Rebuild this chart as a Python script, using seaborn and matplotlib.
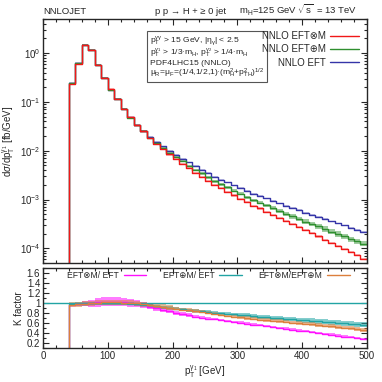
import numpy as np
import matplotlib
matplotlib.use("Agg")
import matplotlib.pyplot as plt
import seaborn as sns
from matplotlib.ticker import LogLocator, MultipleLocator, NullFormatter, FormatStrFormatter

# bin edges in p_T^gamma1 [GeV]
pt_edges = list(range(40, 510, 10))

# d sigma / d pT  [fb/GeV], one value per 10 GeV bin (40..500)
xs_eft = [0.245, 0.62, 1.46, 1.18, 0.575, 0.305, 0.177, 0.114, 0.0715, 0.048,
          0.0337, 0.0258, 0.0194, 0.0151, 0.0123, 0.0100, 0.00832, 0.00692, 0.00575, 0.00479,
          0.00407, 0.00347, 0.00295, 0.00257, 0.00224, 0.00195, 0.00170, 0.00148, 0.00132, 0.00117,
          0.00105, 9.33e-4, 8.32e-4, 7.41e-4, 6.61e-4, 6.03e-4, 5.37e-4, 4.90e-4, 4.37e-4, 3.98e-4,
          3.55e-4, 3.24e-4, 2.95e-4, 2.63e-4, 2.40e-4, 2.19e-4]
xs_add = [0.240, 0.614, 1.445, 1.18, 0.575, 0.305, 0.177, 0.114, 0.0715, 0.0475,
          0.0330, 0.0250, 0.0186, 0.0142, 0.0113, 0.0091, 0.00740, 0.00609, 0.00495, 0.00407,
          0.00342, 0.00288, 0.00239, 0.00206, 0.00177, 0.00152, 0.00131, 0.00112, 9.77e-4, 8.54e-4,
          7.56e-4, 6.62e-4, 5.82e-4, 5.11e-4, 4.49e-4, 4.04e-4, 3.54e-4, 3.19e-4, 2.80e-4, 2.51e-4,
          2.20e-4, 1.98e-4, 1.77e-4, 1.55e-4, 1.39e-4, 1.25e-4]
xs_mult = [0.238, 0.608, 1.445, 1.18, 0.581, 0.311, 0.181, 0.116, 0.0722, 0.048,
           0.0330, 0.0248, 0.0180, 0.0136, 0.0107, 0.0084, 0.00674, 0.00540, 0.00437, 0.00350,
           0.00289, 0.00239, 0.00201, 0.00170, 0.00143, 0.00121, 0.00104, 8.73e-4, 7.52e-4, 6.55e-4,
           5.67e-4, 4.85e-4, 4.16e-4, 3.63e-4, 3.11e-4, 2.71e-4, 2.36e-4, 2.06e-4, 1.75e-4, 1.51e-4,
           1.31e-4, 1.13e-4, 9.74e-5, 8.42e-5, 7.20e-5, 6.13e-5]

# relative scale uncertainty (half width) of the main-panel bands
rel_eft = [0.04] * 46
rel_add = [0.04] * 13 + [0.05] * 8 + [0.07] * 10 + [0.09, 0.09, 0.10, 0.10, 0.10, 0.11, 0.11,
                                                     0.11, 0.12, 0.12, 0.12, 0.12, 0.12, 0.12, 0.12]
rel_mult = [0.05] * 46

# K factors (ratios)
k_mult_eft = [0.97, 0.98, 0.99, 1.00, 1.02, 1.03, 1.03, 1.03, 1.02, 1.01,
              0.99, 0.96, 0.93, 0.90, 0.87, 0.84, 0.81, 0.78, 0.76, 0.73,
              0.71, 0.69, 0.68, 0.66, 0.64, 0.62, 0.61, 0.59, 0.57, 0.56,
              0.54, 0.52, 0.50, 0.49, 0.47, 0.45, 0.44, 0.42, 0.40, 0.38,
              0.37, 0.35, 0.33, 0.32, 0.30, 0.28]
k_add_eft = [0.98, 0.99, 0.99, 1.00, 1.00, 1.00, 1.00, 1.00, 1.00, 0.99,
             0.98, 0.97, 0.96, 0.94, 0.92, 0.91, 0.89, 0.88, 0.86, 0.85,
             0.84, 0.83, 0.81, 0.80, 0.79, 0.78, 0.77, 0.76, 0.74, 0.73,
             0.72, 0.71, 0.70, 0.69, 0.68, 0.67, 0.66, 0.65, 0.64, 0.63,
             0.62, 0.61, 0.60, 0.59, 0.58, 0.57]
k_mult_add = [0.97, 0.98, 0.99, 1.00, 1.01, 1.02, 1.02, 1.02, 1.01, 1.01,
              1.00, 0.98, 0.96, 0.94, 0.93, 0.91, 0.89, 0.87, 0.86, 0.84,
              0.83, 0.81, 0.79, 0.77, 0.75, 0.73, 0.72, 0.70, 0.69, 0.67,
              0.66, 0.65, 0.64, 0.63, 0.61, 0.60, 0.59, 0.58, 0.56, 0.55,
              0.54, 0.52, 0.51, 0.50, 0.48, 0.46]
dk_mult_eft = [0.02, 0.03, 0.05, 0.07, 0.09, 0.09, 0.09, 0.09, 0.08, 0.08,
               0.07, 0.06, 0.05, 0.05, 0.05, 0.04, 0.04, 0.04, 0.04, 0.03] + [0.025] * 26
dk_add_eft = [0.03] * 26 + [0.04] * 10 + [0.05] * 10
dk_mult_add = [0.05] * 16 + [0.035] * 30

RED, GREEN, BLUE = "#f01818", "#2f8f2f", "#3535a8"
MAGENTA, TEAL, ORANGE = "#ff10ff", "#22a4a4", "#dc7f3c"

sns.set_style("ticks")
plt.rcParams["font.family"] = ["Liberation Sans", "DejaVu Sans"]
plt.rcParams["mathtext.fontset"] = "custom"
plt.rcParams["mathtext.rm"] = "Liberation Sans"
plt.rcParams["mathtext.it"] = "Liberation Sans:italic"
plt.rcParams["font.size"] = 7

fig = plt.figure(figsize=(3.82, 3.82), dpi=100)
ax = fig.add_axes([0.1126, 0.3115, 0.848, 0.6387])
rx = fig.add_axes([0.1126, 0.089, 0.848, 0.2094])


def steps(vals):
    return list(vals) + [vals[-1]]


def draw(axis, vals, lo, hi, color, label, alpha, ybottom):
    axis.fill_between(pt_edges, steps(lo), steps(hi), step="post",
                      color=color, alpha=alpha, lw=0)
    sns.lineplot(x=pt_edges, y=steps(vals), ax=axis, color=color, lw=1.0,
                 drawstyle="steps-post", label=label, errorbar=None)
    axis.vlines(pt_edges[0], ybottom, vals[0], color=color, lw=1.0)


ymin_main = 5e-5
for vals, rel, col, lab, a in [(xs_eft, rel_eft, BLUE, "NNLO EFT", 0.3),
                               (xs_add, rel_add, GREEN, "NNLO EFT\u2295M", 0.45),
                               (xs_mult, rel_mult, RED, "NNLO EFT\u2297M", 0.3)]:
    v = np.array(vals)
    r = np.array(rel)
    draw(ax, vals, v * (1 - r), v * (1 + r), col, lab, a, ymin_main)

ax.set_yscale("log")
ax.set_xlim(0, 500)
ax.set_ylim(ymin_main, 5)
ax.yaxis.set_major_locator(LogLocator(base=10, numticks=10))
ax.yaxis.set_minor_locator(LogLocator(base=10, subs=(2, 3, 4, 5, 6, 7, 8, 9), numticks=20))
ax.yaxis.set_minor_formatter(NullFormatter())
ax.xaxis.set_major_locator(MultipleLocator(100))
ax.xaxis.set_minor_locator(MultipleLocator(20))
ax.tick_params(axis="x", labelbottom=False)
ax.set_xlabel("")
ax.set_ylabel(r"d$\sigma$/d$\mathregular{p_T^{\gamma_1}}$ [fb/GeV]", fontsize=7, labelpad=2)

h, l = ax.get_legend_handles_labels()
order = [l.index("NNLO EFT\u2297M"), l.index("NNLO EFT\u2295M"), l.index("NNLO EFT")]
ax.legend([h[i] for i in order], [l[i] for i in order], loc="upper right",
          bbox_to_anchor=(0.995, 0.975), markerfirst=False, frameon=False,
          fontsize=7, handlelength=3.0, labelspacing=0.35, handletextpad=0.5,
          borderaxespad=0.2)

info = ("$\\mathregular{p_T^{\\gamma\\gamma}}$ > 15 GeV, |$\\mathregular{\\eta_\\gamma}$| < 2.5\n"
        "$\\mathregular{p_T^{\\gamma_1}}$ > 1/3$\\cdot$$\\mathregular{m_H}$, "
        "$\\mathregular{p_T^{\\gamma_2}}$ > 1/4$\\cdot$$\\mathregular{m_H}$\n"
        "PDF4LHC15 (NNLO)\n"
        "$\\mathregular{\\mu_R}$=$\\mathregular{\\mu_F}$=(1/4,1/2,1)$\\cdot$"
        "$\\mathregular{(m_H^2{+}p_{TH}^2)^{1/2}}$")
ax.text(0.33, 0.94, info, transform=ax.transAxes, va="top", ha="left",
        fontsize=6.1, linespacing=0.98,
        bbox=dict(boxstyle="square,pad=0.3", fc="white", ec="#555555", lw=0.8))

# ratio panel
ymin_ratio = 0.1
for vals, dk, col, lab, a in [(k_mult_eft, dk_mult_eft, MAGENTA, "EFT\u2297M/ EFT", 0.55),
                              (k_add_eft, dk_add_eft, TEAL, "EFT\u2295M/ EFT", 0.55),
                              (k_mult_add, dk_mult_add, ORANGE, "EFT\u2297M/EFT\u2295M", 0.55)]:
    v = np.array(vals)
    d = np.array(dk)
    draw(rx, vals, v - d, v + d, col, lab, a, ymin_ratio)

rx.axhline(1.0, color=TEAL, lw=1.0, zorder=1)
rx.set_xlim(0, 500)
rx.set_ylim(ymin_ratio, 1.7)
rx.xaxis.set_major_locator(MultipleLocator(100))
rx.xaxis.set_minor_locator(MultipleLocator(20))
rx.yaxis.set_major_locator(MultipleLocator(0.2))
rx.yaxis.set_minor_locator(MultipleLocator(0.1))
rx.yaxis.set_major_formatter(FormatStrFormatter("%g"))
rx.set_ylim(ymin_ratio, 1.7)
rx.set_xlabel(r"$\mathregular{p_T^{\gamma_1}}$ [GeV]", fontsize=7, labelpad=2)
rx.set_ylabel("K factor", fontsize=7, labelpad=2)
rx.legend(loc="upper center", bbox_to_anchor=(0.51, 1.03), ncol=3, markerfirst=False,
          frameon=False, fontsize=6.2, handlelength=2.6, handletextpad=0.6,
          columnspacing=1.9, borderaxespad=0.2)

for a in (ax, rx):
    a.tick_params(which="both", direction="in", top=True, right=True, labelsize=7,
                  width=0.8, pad=2)
    a.tick_params(which="major", length=4)
    a.tick_params(which="minor", length=2)
    for s in a.spines.values():
        s.set_visible(True)
        s.set_linewidth(1.0)

top_y = 1 - 14 / 382
fig.text(0.113, top_y, "NNLOJET", fontsize=6.8, ha="left", va="baseline")
fig.text(0.405, top_y, "p p \u2192 H + \u2265 0 jet", fontsize=6.8, ha="left", va="baseline")
fig.text(0.935, top_y, r"$\mathregular{m_H}$=125 GeV $\mathregular{\sqrt{s}}$  = 13 TeV",
         fontsize=6.8, ha="right", va="baseline")

fig.savefig("out.png", dpi=100)
